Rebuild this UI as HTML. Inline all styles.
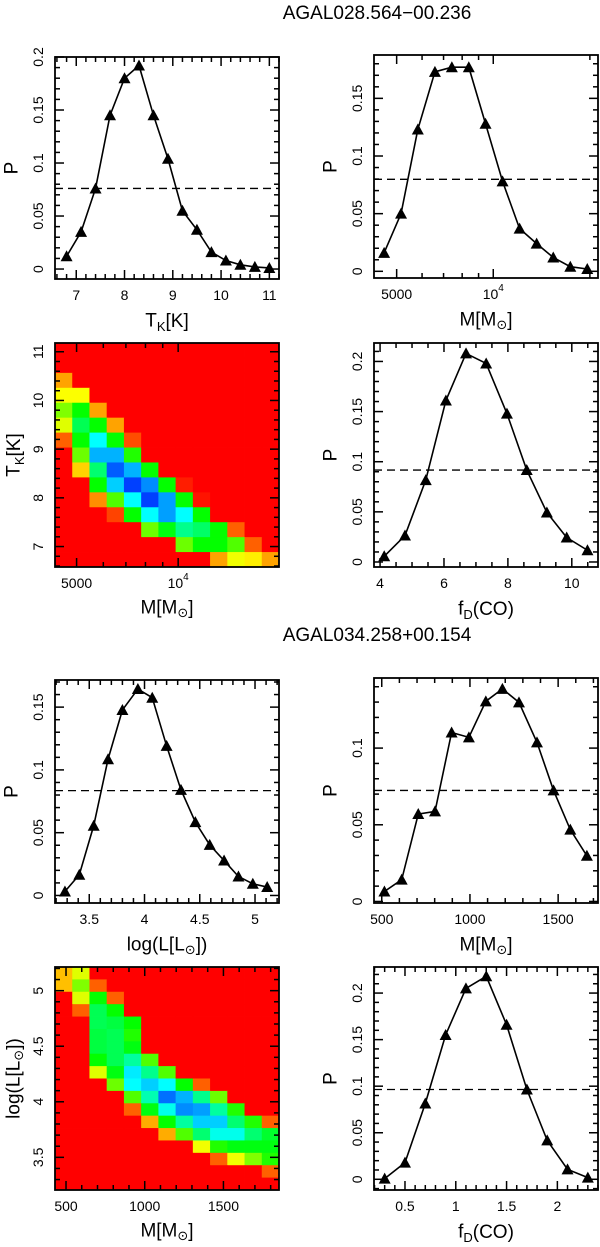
<!DOCTYPE html>
<html><head><meta charset="utf-8">
<style>
html,body{margin:0;padding:0;background:#fff;}
svg{display:block;font-family:"Liberation Sans","DejaVu Sans",sans-serif;}
</style></head>
<body>
<svg id="fig" width="600" height="1247" viewBox="0 0 600 1247" xmlns="http://www.w3.org/2000/svg">
<text x="377" y="19" font-size="19" text-anchor="middle">AGAL028.564−00.236</text>
<text x="377" y="641" font-size="19" text-anchor="middle">AGAL034.258+00.154</text>
</svg>
<script>
// ---- data ----
const tkX = [6.8,7.1,7.4,7.7,8.0,8.3,8.6,8.9,9.2,9.5,9.8,10.1,10.4,10.7,11.0];
const tkP = [0.012,0.035,0.076,0.145,0.180,0.192,0.145,0.104,0.055,0.037,0.016,0.008,0.004,0.002,0.001];
const tkLevel = [0.076];
const m1X = [4570,5160,5820,6580,7430,8390,9460,10690,12080,13650,15380,17380,19630];
const m1P = [0.016,0.050,0.123,0.173,0.177,0.177,0.128,0.078,0.037,0.024,0.012,0.004,0.002];
const m1Level = [0.0798];
const fd1X = [4.13,4.78,5.43,6.06,6.69,7.32,7.97,8.59,9.22,9.84,10.49];
const fd1P = [0.0057,0.0264,0.0817,0.161,0.208,0.198,0.148,0.0917,0.0494,0.0244,0.0117];
const fd1Level = [0.0917];
const lX = [3.28,3.41,3.54,3.67,3.80,3.94,4.07,4.20,4.33,4.46,4.59,4.72,4.85,4.98,5.11];
const lP = [0.0032,0.0165,0.0555,0.1085,0.1477,0.1644,0.1575,0.1191,0.0841,0.0584,0.0403,0.0278,0.0151,0.0093,0.0067];
const lLevel = [0.0835];
const m2X = [515,613,707,802,896,994,1090,1184,1278,1380,1474,1569,1663];
const m2P = [0.0065,0.0142,0.057,0.0587,0.1102,0.107,0.1305,0.1386,0.1298,0.1037,0.0724,0.0468,0.0298];
const m2Level = [0.0724];
const fd2X = [0.3,0.5,0.7,0.9,1.1,1.3,1.5,1.7,1.9,2.1,2.3];
const fd2P = [0.0007,0.0179,0.0814,0.155,0.205,0.218,0.166,0.0964,0.0418,0.0107,0.0018];
const fd2Level = [0.0964];
const heat1 = [
[0,0,0,0,0,0,0,0,0,0,0,0,0],
[0,0,0,0,0,0,0,0,0,0,0,0,0],
[0.17,0,0,0,0,0,0,0,0,0,0,0,0],
[0.27,0.27,0,0,0,0,0,0,0,0,0,0,0],
[0.4,0.53,0.17,0,0,0,0,0,0,0,0,0,0],
[0.3,0.62,0.53,0.17,0,0,0,0,0,0,0,0,0],
[0.1,0.53,0.8,0.53,0.08,0,0,0,0,0,0,0,0],
[0,0.42,0.88,0.88,0.5,0,0,0,0,0,0,0,0],
[0,0.22,0.65,0.97,0.88,0.53,0,0,0,0,0,0,0],
[0,0,0.53,0.85,1,0.92,0.53,0.03,0,0,0,0,0],
[0,0,0.15,0.45,0.8,1,0.9,0.53,0.02,0,0,0,0],
[0,0,0,0.07,0.53,0.8,0.9,0.8,0.53,0,0,0,0],
[0,0,0,0,0,0.42,0.55,0.68,0.64,0.53,0.1,0,0],
[0,0,0,0,0,0,0,0.42,0.53,0.53,0.45,0.1,0],
[0,0,0,0,0,0,0,0,0,0.17,0.28,0.25,0.17]];
const heat2 = [
[0.2,0.3,0,0,0,0,0,0,0,0,0,0,0],
[0.2,0.4,0.1,0,0,0,0,0,0,0,0,0,0],
[0,0.3,0.53,0.1,0,0,0,0,0,0,0,0,0],
[0,0.1,0.62,0.53,0,0,0,0,0,0,0,0,0],
[0,0,0.62,0.6,0.53,0,0,0,0,0,0,0,0],
[0,0,0.6,0.62,0.5,0,0,0,0,0,0,0,0],
[0,0,0.6,0.62,0.55,0,0,0,0,0,0,0,0],
[0,0,0.53,0.62,0.7,0.45,0,0,0,0,0,0,0],
[0,0,0.3,0.55,0.82,0.68,0.45,0,0,0,0,0,0],
[0,0,0,0.42,0.8,0.85,0.8,0.53,0.1,0,0,0,0],
[0,0,0,0,0.45,0.72,0.95,0.88,0.68,0.42,0,0,0],
[0,0,0,0,0.1,0.55,0.78,0.92,0.9,0.7,0.5,0,0],
[0,0,0,0,0,0.18,0.53,0.7,0.85,0.85,0.65,0.5,0.1],
[0,0,0,0,0,0,0.18,0.45,0.65,0.78,0.78,0.65,0.58],
[0,0,0,0,0,0,0,0,0.28,0.5,0.55,0.55,0.55],
[0,0,0,0,0,0,0,0,0,0.1,0.28,0.4,0.5],
[0,0,0,0,0,0,0,0,0,0,0,0,0.1],
[0,0,0,0,0,0,0,0,0,0,0,0,0]];
const tkTicks = [7,8,9,10,11];
const pTicks1 = [0,0.05,0.1,0.15,0.2];
const mLogTicks = [5000,10000];
const pTicks2 = [0,0.05,0.1,0.15];
const fd1Ticks = [4,6,8,10];
const lTicks = [3.5,4,4.5,5];
const m2Ticks = [500,1000,1500];
const fd2Ticks = [0.5,1,1.5,2];

const NS = "http://www.w3.org/2000/svg";
const svg = document.getElementById('fig');
function el(tag){ return document.createElementNS(NS, tag); }

function makeAxis(p){
  const lg = p.log;
  const tx = v => lg ? Math.log10(v) : v;
  p.sx = v => p.x0 + (tx(v)-tx(p.xmin))/(tx(p.xmax)-tx(p.xmin))*(p.x1-p.x0);
  p.sy = v => p.y1 - (v-p.ymin)/(p.ymax-p.ymin)*(p.y1-p.y0);
}
function fmt(v){ return String(v); }
function addText(g, x, y, s, size, rot, anchor){
  const t = el('text');
  t.setAttribute('x', x); t.setAttribute('y', y);
  t.setAttribute('font-size', size);
  t.setAttribute('text-anchor', anchor||'middle');
  t.setAttribute('dominant-baseline','central');
  if (rot) t.setAttribute('transform','rotate(-90 '+x+' '+y+')');
  t.innerHTML = s;
  g.appendChild(t);
  return t;
}
function tickLine(g, x1,y1,x2,y2){
  const l = el('line');
  l.setAttribute('x1',x1);l.setAttribute('y1',y1);l.setAttribute('x2',x2);l.setAttribute('y2',y2);
  l.setAttribute('stroke','#000');l.setAttribute('stroke-width','1.5');
  g.appendChild(l);
}
function drawTicks(p, g){
  const eps=1e-9;
  const xs=[];
  if (p.log){
    for (let d=3; d<=5; d++) for (let k=1;k<=9;k++){ const v=k*Math.pow(10,d); if(v>=p.xmin&&v<=p.xmax) xs.push([v, (k===1||k===5)]); }
  } else {
    const start=Math.ceil(p.xmin/p.xminor-eps)*p.xminor;
    for (let v=start; v<=p.xmax+eps; v+=p.xminor){ const r=Math.round(v/p.xminor)*p.xminor; xs.push([r, Math.abs(r/p.xmajor-Math.round(r/p.xmajor))<1e-6]); }
  }
  xs.forEach(([v,maj])=>{ const X=p.sx(v), L=maj?9:5; tickLine(g,X,p.y1,X,p.y1-L); tickLine(g,X,p.y0,X,p.y0+L); });
  const ys=[];
  const ys0=Math.ceil(p.ymin/p.yminor-eps)*p.yminor;
  for (let v=ys0; v<=p.ymax+eps; v+=p.yminor){ const r=Math.round(v/p.yminor)*p.yminor; ys.push([r, Math.abs(r/p.ymajor-Math.round(r/p.ymajor))<1e-6]); }
  ys.forEach(([v,maj])=>{ const Y=p.sy(v), L=maj?9:5; tickLine(g,p.x0,Y,p.x0+L,Y); tickLine(g,p.x1,Y,p.x1-L,Y); });
  p.xt.forEach(v=>{
    let s = fmt(v);
    if (p.log && v===10000) s = '10<tspan font-size="10" dy="-6">4</tspan>';
    addText(g, p.sx(v), p.y1+16, s, 14);
  });
  p.yt.forEach(v=>{ addText(g, p.x0-17, p.sy(v), fmt(v), 14, true); });
}
function frame(p,g){
  const r=el('rect');
  r.setAttribute('x',p.x0);r.setAttribute('y',p.y0);r.setAttribute('width',p.x1-p.x0);r.setAttribute('height',p.y1-p.y0);
  r.setAttribute('fill','none');r.setAttribute('stroke','#000');r.setAttribute('stroke-width','1.8');
  
  
  g.appendChild(r);
}
function linePanel(p, xs, ps, level){
  makeAxis(p);
  const g = el('g');
  
  
  svg.appendChild(g);
  const d = el('line');
  
  
  d.setAttribute('x1',p.x0);d.setAttribute('x2',p.x1);
  d.setAttribute('y1',p.sy(level[0]));d.setAttribute('y2',p.sy(level[0]));
  d.setAttribute('stroke','#000');d.setAttribute('stroke-width','1.3');d.setAttribute('stroke-dasharray','8 5');
  g.appendChild(d);
  const pl = el('polyline');
  
  
  pl.setAttribute('points', xs.map((x,i)=>p.sx(x)+','+p.sy(ps[i])).join(' '));
  pl.setAttribute('fill','none');pl.setAttribute('stroke','#000');pl.setAttribute('stroke-width','1.6');
  g.appendChild(pl);
  xs.forEach((x,i)=>{
    const X=p.sx(x), Y=p.sy(ps[i]);
    const t=el('polygon');
    
    
    t.setAttribute('points', (X-6)+','+(Y+5)+' '+(X+6)+','+(Y+5)+' '+X+','+(Y-6));
    t.setAttribute('fill','#000');
    g.appendChild(t);
  });
  frame(p,g);
  drawTicks(p,g);
  addText(g, p.x0-43, (p.y0+p.y1)/2, 'P', 19, true);
  addText(g, (p.x0+p.x1)/2, p.y1+42, p.xlabel, 19);
}
function heatPanel(p, grid){
  makeAxis(p);
  const g = el('g');
  
  
  svg.appendChild(g);
  const nr=grid.length, nc=grid[0].length;
  const cw=(p.x1-p.x0)/nc, ch=(p.y1-p.y0)/nr;
  grid.forEach((row,r)=>row.forEach((v,c)=>{
    const rc=el('rect');
    
    
    rc.setAttribute('x',p.x0+c*cw);rc.setAttribute('y',p.y0+r*ch);
    rc.setAttribute('width',cw+0.4);rc.setAttribute('height',ch+0.4);
    rc.setAttribute('fill','hsl('+(225*v)+',100%,50%)');
    g.appendChild(rc);
  }));
  frame(p,g);
  drawTicks(p,g);
  addText(g, p.x0-41, (p.y0+p.y1)/2, p.ylabel, 19, true);
  addText(g, (p.x0+p.x1)/2, p.y1+41, p.xlabel, 19);
}
const MSUN = 'M[M<tspan font-size="13" dy="4">⊙</tspan><tspan dy="-4">]</tspan>';
const FD = 'f<tspan font-size="13" dy="5">D</tspan><tspan dy="-5">(CO)</tspan>';
linePanel({name:'panel-tk-probability',x0:55,x1:279,y0:57,y1:279,xmin:6.56,xmax:11.2,ymin:-0.0094,ymax:0.2,xmajor:1,xminor:0.2,ymajor:0.05,yminor:0.01,xt:tkTicks,yt:pTicks1,
  xlabel:'T<tspan font-size="13" dy="5">K</tspan><tspan dy="-5">[K]</tspan>'}, tkX, tkP, tkLevel);
linePanel({name:'panel-mass-probability-1',log:true,x0:374,x1:598,y0:55,y1:278,xmin:4250,xmax:21200,ymin:-0.0058,ymax:0.1876,ymajor:0.05,yminor:0.01,xt:mLogTicks,yt:pTicks2,xlabel:MSUN}, m1X, m1P, m1Level);
heatPanel({name:'heatmap-tk-vs-mass',log:true,x0:55,x1:279,y0:343,y1:567,xmin:4315,xmax:19900,ymin:6.58,ymax:11.18,ymajor:1,yminor:0.2,xt:mLogTicks,yt:tkTicks,xlabel:MSUN,
  ylabel:'T<tspan font-size="13" dy="5">K</tspan><tspan dy="-5">[K]</tspan>'}, heat1);
linePanel({name:'panel-fd-probability-1',x0:374,x1:598,y0:343,y1:567,xmin:3.81,xmax:10.82,ymin:-0.005,ymax:0.2184,xmajor:2,xminor:0.5,ymajor:0.05,yminor:0.01,xt:fd1Ticks,yt:[0,0.05,0.1,0.15,0.2],xlabel:FD}, fd1X, fd1P, fd1Level);
linePanel({name:'panel-luminosity-probability',x0:55,x1:279,y0:680,y1:903,xmin:3.19,xmax:5.217,ymin:-0.006,ymax:0.1716,xmajor:0.5,xminor:0.1,ymajor:0.05,yminor:0.01,xt:lTicks,yt:pTicks2,
  xlabel:'log(L[L<tspan font-size="13" dy="4">⊙</tspan><tspan dy="-4">])</tspan>'}, lX, lP, lLevel);
linePanel({name:'panel-mass-probability-2',x0:374,x1:598,y0:678,y1:903,xmin:456,xmax:1726,ymin:-0.001,ymax:0.1457,xmajor:500,xminor:100,ymajor:0.05,yminor:0.01,xt:m2Ticks,yt:[0,0.05,0.1],xlabel:MSUN}, m2X, m2P, m2Level);
heatPanel({name:'heatmap-luminosity-vs-mass',x0:55,x1:279,y0:967,y1:1190,xmin:430,xmax:1853,ymin:3.206,ymax:5.213,xmajor:500,xminor:100,ymajor:0.5,yminor:0.1,xt:m2Ticks,yt:lTicks,xlabel:MSUN,
  ylabel:'log(L[L<tspan font-size="13" dy="4">⊙</tspan><tspan dy="-4">])</tspan>'}, heat2);
linePanel({name:'panel-fd-probability-2',x0:374,x1:598,y0:967,y1:1190,xmin:0.195,xmax:2.40,ymin:-0.0115,ymax:0.228,xmajor:0.5,xminor:0.1,ymajor:0.05,yminor:0.01,xt:fd2Ticks,yt:[0,0.05,0.1,0.15,0.2],xlabel:FD}, fd2X, fd2P, fd2Level);
</script>
</body></html>
